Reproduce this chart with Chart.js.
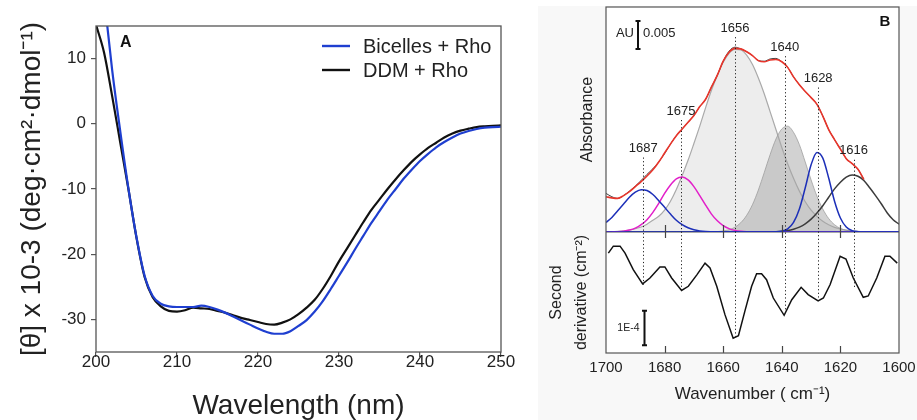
<!DOCTYPE html>
<html>
<head>
<meta charset="utf-8">
<script src="https://cdn.jsdelivr.net/npm/chart.js@4.4.1/dist/chart.umd.min.js"></script>
<style>
  html, body { margin: 0; padding: 0; background: #fff; }
  #wrap { position: relative; width: 917px; height: 420px; overflow: hidden; }
  #panelB { position: absolute; left: 538px; top: 6px; width: 379px; height: 414px; background: #f8f8f8; }
  canvas { position: absolute; top: 0; }
  #cdChart { left: 0; }
  #ftirChart { left: 538px; }
</style>
</head>
<body>
<div id="wrap">
  <div id="panelB"></div>
  <canvas id="cdChart" width="538" height="420"></canvas>
  <canvas id="ftirChart" width="379" height="420"></canvas>
</div>
<script>
Chart.defaults.font.family = '"Liberation Sans", Arial, Helvetica, sans-serif';
Chart.defaults.color = "#222";

// Panel A - CD spectra
const cdWavelength = [200, 201, 202, 203, 204, 205, 206, 207, 208, 209, 210, 211, 212, 213, 214, 215, 216, 217, 218, 219, 220,
  221, 222, 223, 224, 225, 226, 227, 228, 229, 230, 231, 232, 233, 234, 235, 236, 237, 238, 239, 240,
  241, 242, 243, 244, 245, 246, 247, 248, 249, 250];
const cdBicelles = [30, 19.5, 8.2, -1.2, -9.9, -17.4, -23.3, -26.4, -27.6, -28.0, -28.1, -28.1, -28.1, -27.9, -28.1, -28.5, -29.0, -29.6, -30.2, -30.8, -31.4,
  -31.9, -32.2, -32.2, -31.8, -31.0, -30.1, -28.8, -27.2, -25.3, -23.3, -21.3, -19.2, -17.2, -15.2, -13.4, -11.6, -10.0, -8.4, -7.0, -5.7,
  -4.6, -3.6, -2.8, -2.1, -1.5, -1.1, -0.8, -0.6, -0.5, -0.45];
const cdDDM = [15.2, 10.9, 4.2, -2.9, -10.0, -17.5, -23.5, -26.6, -28.0, -28.7, -28.8, -28.6, -28.2, -28.3, -28.4, -28.7, -29.0, -29.4, -29.8, -30.1, -30.4,
  -30.7, -30.8, -30.5, -30.0, -29.2, -28.2, -27.0, -25.3, -23.3, -21.1, -19.1, -17.1, -15.1, -13.2, -11.6, -10.0, -8.5, -7.1, -5.8, -4.7,
  -3.7, -2.9, -2.1, -1.5, -1.05, -0.75, -0.5, -0.38, -0.3, -0.25];
const cdYTicks = [-30, -20, -10, 0, 10];

// Panel B - FTIR amide I band (absorbance in 1e-3 AU)
const ftirWavenumber = [1700, 1698, 1696, 1694, 1692, 1690, 1688, 1686, 1684, 1682, 1680, 1678, 1676, 1674, 1672, 1670, 1668,
  1666, 1664, 1662, 1660, 1658, 1656, 1654, 1652, 1650, 1648, 1646, 1644, 1642, 1640, 1638, 1636, 1634,
  1632, 1630, 1628, 1626, 1624, 1622, 1620, 1618, 1616, 1614, 1612, 1610, 1608, 1606, 1604, 1602, 1600];
const ftirFit = [6.3, 6.1, 6.0, 6.5, 7.2, 8.1, 9.0, 10.0, 11.1, 12.5, 14.1, 15.7, 17.2, 18.4, 19.6, 20.8, 22.4,
  23.7, 25.9, 28.0, 30.5, 32.1, 32.8, 32.7, 32.2, 31.5, 30.6, 30.4, 30.7, 30.8, 30.4, 29.4, 27.7, 26.3,
  25.1, 24.0, 22.8, 20.7, 18.3, 16.5, 14.8, 13.1, 12.2, 11.2, 9.4, null, null, null, null, null, null];
const ftirRaw = [6.9, 6.3, 6.0, 6.5, 7.3, 8.2, 9.2, 10.3, 11.3, 12.5, 14.0, 15.7, 17.2, 18.4, 19.6, 20.8, 22.4,
  23.7, 25.9, 28.0, 30.5, 32.3, 33.0, 32.7, 32.2, 31.5, 30.6, 30.5, 30.9, 31.0, 30.4, 29.4, 27.7, 26.3,
  25.1, 24.0, 22.8, 20.7, 18.3, 16.5, 14.8, 13.1, 12.2, 11.2, 9.4, null, null, null, null, null, null];
const band1687 = [1.7, 2.6, 3.8, 5.0, 6.2, 7.1, 7.55, 7.4, 6.7, 5.6, 4.4, 3.2, 2.1, 1.3, 0.75, 0.4, 0.2,
  0.08, 0.03, 0, 0, 0, 0, 0, 0, 0, 0, 0, 0, 0, 0, 0, 0, 0,
  0, 0, 0, 0, 0, 0, 0, 0, 0, 0, 0, 0, 0, 0, 0, 0, 0];
const band1675 = [0, 0.02, 0.06, 0.15, 0.34, 0.68, 1.3, 2.2, 3.5, 5.1, 6.9, 8.4, 9.5, 9.8, 9.3, 8.1, 6.5,
  4.8, 3.2, 2.0, 1.15, 0.6, 0.29, 0.13, 0.05, 0.02, 0, 0, 0, 0, 0, 0, 0, 0,
  0, 0, 0, 0, 0, 0, 0, 0, 0, 0, 0, 0, 0, 0, 0, 0, 0];
const band1656 = [0.04, 0.07, 0.13, 0.22, 0.36, 0.58, 0.9, 1.4, 2.1, 2.8, 3.9, 5.5, 7.6, 10.1, 12.8, 15.8, 18.9,
  22.2, 25.3, 28.0, 30.3, 31.9, 32.6, 32.5, 31.6, 29.9, 27.5, 24.7, 21.5, 18.3, 15.1, 12.2, 9.6, 7.3,
  5.4, 3.9, 2.8, 1.9, 1.3, 0.83, 0.53, 0.33, 0.2, 0.12, 0.07, 0.04, 0.02, 0.01, 0, 0, 0];
const band1640 = [0, 0, 0, 0, 0, 0, 0, 0, 0, 0, 0, 0, 0, 0, 0, 0, 0,
  0, 0.03, 0.07, 0.18, 0.41, 0.85, 1.66, 2.97, 4.9, 7.5, 10.6, 13.8, 16.6, 18.4, 18.9, 17.8, 15.6,
  12.5, 9.3, 6.4, 4.1, 2.4, 1.3, 0.64, 0.3, 0.12, 0.05, 0.02, 0, 0, 0, 0, 0, 0];
const band1628 = [0, 0, 0, 0, 0, 0, 0, 0, 0, 0, 0, 0, 0, 0, 0, 0, 0,
  0, 0, 0, 0, 0, 0, 0, 0, 0, 0, 0, 0.01, 0.03, 0.14, 0.54, 1.7, 4.1,
  7.9, 12.0, 14.2, 13.2, 9.65, 5.5, 2.5, 0.88, 0.24, 0.05, 0.01, 0, 0, 0, 0, 0, 0];
const band1616 = [0, 0, 0, 0, 0, 0, 0, 0, 0, 0, 0, 0, 0, 0, 0, 0, 0,
  0, 0, 0, 0, 0, 0, 0, 0, 0, 0, 0.01, 0.03, 0.06, 0.13, 0.26, 0.5, 0.88,
  1.46, 2.3, 3.4, 4.7, 6.2, 7.7, 8.9, 9.8, 10.2, 9.95, 9.2, 7.9, 6.5, 5.0, 3.4, 2.2, 1.4];

// second derivative (units of 1e-5 cm^-2)
const derivWavenumber = [1699.2, 1697.5, 1695.2, 1693.5, 1690.7, 1687.5, 1685.0, 1681.6, 1679.9, 1677.6, 1674.2,
  1671.9, 1669.0, 1666.2, 1664.5, 1662.2, 1659.4, 1656.6, 1654.8, 1652.6, 1650.3, 1648.6, 1646.9, 1645.2,
  1642.9, 1639.2, 1636.6, 1633.4, 1631.0, 1627.6, 1625.8, 1623.5, 1620.1, 1618.1, 1615.6, 1612.2, 1610.5,
  1607.6, 1604.8, 1603.1, 1600.6];
const derivValue = [3.9, 5.9, 5.9, 3.9, -0.9, -5.0, -3.3, -0.1, -0.1, -3.3, -6.9,
  -5.7, -2.4, 1.0, -0.4, -5.7, -13.9, -20.7, -20.0, -12.9, -5.7, -2.1, -2.1, -3.8,
  -9.1, -14.1, -9.6, -6.0, -8.1, -9.9, -9.1, -5.2, 3.0, 2.2, -3.3, -8.9, -8.5,
  -3.3, 3.0, 3.0, 1.0];

// assigned peaks: label, line position, top of the marker (absorbance), bottom (derivative)
const peakLabels = ["1687", "1675", "1656", "1640", "1628", "1616"];
const peakPositions = [1687.3, 1674.4, 1656.0, 1639.0, 1627.6, 1615.5];
const peakTopAbs = [13.3, 20.0, 34.8, 31.4, 25.8, 12.9];
const peakBottomDeriv = [-5.8, -6.8, -20.3, -12.6, -9.1, -6.2];

const toPoints = (xs, ys) => xs.map((x, i) => ({ x: x, y: ys[i] }));

// frame, legend and panel letter for A
const cdDecor = {
  id: "cdDecor",
  afterDraw(chart) {
    const { ctx, chartArea: a } = chart;
    ctx.save();
    ctx.strokeStyle = "#555";
    ctx.lineWidth = 1.3;
    ctx.strokeRect(a.left, a.top, a.right - a.left, a.bottom - a.top);

    ctx.fillStyle = "#111";
    ctx.font = 'bold 16px "Liberation Sans", Arial, sans-serif';
    ctx.textBaseline = "middle";
    ctx.textAlign = "left";
    ctx.fillText("A", a.left + 24, a.top + 17);

    ctx.font = '20px "Liberation Sans", Arial, sans-serif';
    chart.data.datasets.forEach((ds, i) => {
      const y = a.top + 20 + i * 24;
      ctx.strokeStyle = ds.borderColor;
      ctx.lineWidth = 2.4;
      ctx.beginPath();
      ctx.moveTo(a.right - 179, y);
      ctx.lineTo(a.right - 151, y);
      ctx.stroke();
      ctx.fillStyle = "#222";
      ctx.fillText(ds.label, a.right - 138, y + 1);
    });
    ctx.restore();
  }
};

new Chart(document.getElementById("cdChart"), {
  type: "line",
  data: {
    datasets: [
      {
        label: "Bicelles + Rho",
        data: toPoints(cdWavelength, cdBicelles),
        borderColor: "#1f3fd0",
        borderWidth: 2.2,
      },
      {
        label: "DDM + Rho",
        data: toPoints(cdWavelength, cdDDM),
        borderColor: "#111111",
        borderWidth: 2.2,
      },
    ],
  },
  options: {
    responsive: false,
    animation: false,
    devicePixelRatio: 1,
    layout: { padding: { top: 26, right: 37, left: 0, bottom: 0 } },
    elements: { point: { radius: 0 }, line: { cubicInterpolationMode: "monotone" } },
    plugins: { legend: { display: false }, tooltip: { enabled: false } },
    scales: {
      x: {
        type: "linear",
        min: 200,
        max: 250,
        ticks: { stepSize: 10, font: { size: 17 }, padding: -5, color: "#222" },
        grid: { display: true, drawOnChartArea: false, drawTicks: true, tickLength: 5, color: "#555", lineWidth: 1.2 },
        border: { display: false },
        title: { display: true, text: "Wavelength (nm)", font: { size: 28, lineHeight: 1 }, padding: 0, color: "#222" },
        afterFit: (s) => { s.height = 68; },
      },
      y: {
        type: "linear",
        min: -35,
        max: 15,
        afterBuildTicks: (s) => { s.ticks = cdYTicks.map((v) => ({ value: v })); },
        ticks: { font: { size: 17 }, padding: 5, color: "#222" },
        grid: { display: true, drawOnChartArea: false, drawTicks: true, tickLength: 5, color: "#555", lineWidth: 1.2 },
        border: { display: false },
        title: {
          display: true,
          text: "[θ] x 10-3 (deg·cm²·dmol⁻¹)",
          font: { size: 28, lineHeight: 1.2 },
          padding: { top: 15, bottom: 0 },
          color: "#222",
        },
        afterFit: (s) => { s.width = 96; },
      },
    },
  },
  plugins: [cdDecor],
});

// white plot area, divider, ticks, peak markers and scale bars for B
const ftirDecor = {
  id: "ftirDecor",
  beforeDraw(chart) {
    const { ctx, chartArea: a } = chart;
    ctx.save();
    ctx.fillStyle = "#ffffff";
    ctx.fillRect(a.left, a.top, a.right - a.left, a.bottom - a.top);
    ctx.restore();
  },
  beforeDatasetsDraw(chart) {
    const { ctx, chartArea: a, scales } = chart;
    const yDiv = scales.yA.getPixelForValue(0);
    ctx.save();
    ctx.strokeStyle = "#555";
    ctx.lineWidth = 1.2;
    ctx.beginPath();
    ctx.moveTo(a.left, yDiv);
    ctx.lineTo(a.right, yDiv);
    ctx.stroke();
    ctx.restore();
  },
  afterDatasetsDraw(chart) {
    const { ctx, chartArea: a, scales } = chart;
    const x = scales.x, yA = scales.yA, yD = scales.yD;
    const yDiv = yA.getPixelForValue(0);
    ctx.save();

    // peak markers
    ctx.strokeStyle = "#222";
    ctx.lineWidth = 1;
    ctx.setLineDash([1.2, 2.4]);
    peakPositions.forEach((p, i) => {
      const px = Math.round(x.getPixelForValue(p)) + 0.5;
      ctx.beginPath();
      ctx.moveTo(px, yA.getPixelForValue(peakTopAbs[i]));
      ctx.lineTo(px, yD.getPixelForValue(peakBottomDeriv[i]));
      ctx.stroke();
    });
    ctx.setLineDash([]);
    ctx.fillStyle = "#222";
    ctx.font = '13px "Liberation Sans", Arial, sans-serif';
    ctx.textAlign = "center";
    ctx.textBaseline = "middle";
    peakPositions.forEach((p, i) => {
      ctx.fillText(peakLabels[i], x.getPixelForValue(p), yA.getPixelForValue(peakTopAbs[i]) - 9);
    });

    // ticks on the divider and the bottom edge
    ctx.strokeStyle = "#444";
    ctx.lineWidth = 1.2;
    x.ticks.forEach((t) => {
      if (t.value <= x.min || t.value >= x.max) return;
      const px = Math.round(x.getPixelForValue(t.value)) + 0.5;
      ctx.beginPath();
      ctx.moveTo(px, yDiv - 7);
      ctx.lineTo(px, yDiv + 6);
      ctx.moveTo(px, a.bottom);
      ctx.lineTo(px, a.bottom - 7);
      ctx.stroke();
    });

    // scale bars
    ctx.strokeStyle = "#111";
    ctx.lineWidth = 2;
    const drawBar = (bx, yTop, yBot) => {
      ctx.beginPath();
      ctx.moveTo(bx, yTop);
      ctx.lineTo(bx, yBot);
      ctx.moveTo(bx - 2.5, yTop);
      ctx.lineTo(bx + 2.5, yTop);
      ctx.moveTo(bx - 2.5, yBot);
      ctx.lineTo(bx + 2.5, yBot);
      ctx.stroke();
    };
    const auLen = yA.getPixelForValue(0) - yA.getPixelForValue(5);
    const auX = a.left + 32, auTop = a.top + 14;
    drawBar(auX, auTop, auTop + auLen);
    ctx.font = '13px "Liberation Sans", Arial, sans-serif';
    ctx.textAlign = "right";
    ctx.fillText("AU", auX - 4, auTop + auLen / 2 - 2);
    ctx.textAlign = "left";
    ctx.fillText("0.005", auX + 5, auTop + auLen / 2 - 2);

    const dLen = yD.getPixelForValue(0) - yD.getPixelForValue(10);
    const dX = a.left + 38.5, dBot = a.bottom - 7.7;
    drawBar(dX, dBot - dLen, dBot);
    ctx.font = '10.5px "Liberation Sans", Arial, sans-serif';
    ctx.textAlign = "right";
    ctx.fillText("1E-4", dX - 5, dBot - dLen / 2);

    // panel letter and frame
    ctx.font = 'bold 15px "Liberation Sans", Arial, sans-serif';
    ctx.textAlign = "center";
    ctx.fillStyle = "#111";
    ctx.fillText("B", a.right - 14, a.top + 15);
    ctx.strokeStyle = "#555";
    ctx.lineWidth = 1.2;
    ctx.strokeRect(a.left, a.top, a.right - a.left, a.bottom - a.top);
    ctx.restore();
  },
};

const bandLine = (label, values, color, order) => ({
  label: label,
  data: toPoints(ftirWavenumber, values),
  yAxisID: "yA",
  borderColor: color,
  borderWidth: 1.5,
  fill: false,
  cubicInterpolationMode: "monotone",
  order: order,
});

new Chart(document.getElementById("ftirChart"), {
  type: "line",
  data: {
    datasets: [
      { ...bandLine("Fit", ftirFit, "#e8352b", 0), borderWidth: 1.6 },
      { ...bandLine("Spectrum", ftirRaw, "#444444", 1), borderWidth: 1 },
      bandLine("1687", band1687, "#1c2fb8", 2),
      bandLine("1628", band1628, "#1c2fb8", 3),
      bandLine("1675", band1675, "#e21fc9", 4),
      bandLine("1616", band1616, "#3b3b3b", 5),
      { ...bandLine("1640", band1640, "rgba(150,150,150,0.7)", 6), borderWidth: 1, fill: "origin", backgroundColor: "rgba(165,165,165,0.5)" },
      { ...bandLine("1656", band1656, "#a9a9a9", 7), borderWidth: 1.2, fill: "origin", backgroundColor: "rgba(215,215,215,0.45)" },
      {
        label: "Second derivative",
        data: toPoints(derivWavenumber, derivValue),
        yAxisID: "yD",
        borderColor: "#111111",
        borderWidth: 1.5,
        tension: 0,
        order: 8,
      },
    ],
  },
  options: {
    responsive: false,
    animation: false,
    devicePixelRatio: 1,
    layout: { padding: { top: 7, right: 18, left: 0, bottom: 0 } },
    elements: { point: { radius: 0 } },
    plugins: { legend: { display: false }, tooltip: { enabled: false } },
    scales: {
      x: {
        type: "linear",
        reverse: true,
        min: 1600,
        max: 1700,
        ticks: { stepSize: 20, font: { size: 15 }, padding: 5.5, color: "#222", callback: (v) => String(v) },
        grid: { display: false, drawTicks: false },
        border: { display: false },
        title: { display: true, text: "Wavenumber ( cm⁻¹)", font: { size: 17, lineHeight: 1.2 }, padding: { top: 0, bottom: 15.8 }, color: "#222" },
        afterFit: (s) => { s.height = 67; s.paddingLeft = 0; s.paddingRight = 0; },
      },
      yD: {
        type: "linear",
        position: "left",
        stack: "ftir",
        stackWeight: 121,
        min: -25,
        max: 10,
        ticks: { display: false },
        grid: { display: false, drawTicks: false },
        border: { display: false },
        title: { display: true, text: ["Second", "derivative (cm⁻²)"], font: { size: 16, lineHeight: 1.55 }, padding: { top: 6.6, bottom: 0 }, color: "#222" },
        afterFit: (s) => { s.width = 68; },
      },
      yA: {
        type: "linear",
        position: "left",
        stack: "ftir",
        stackWeight: 225,
        min: 0,
        max: 40.18,
        ticks: { display: false },
        grid: { display: false, drawTicks: false },
        border: { display: false },
        title: { display: true, text: "Absorbance", font: { size: 16, lineHeight: 1.2 }, padding: { top: 40.4, bottom: 0 }, color: "#222" },
        afterFit: (s) => { s.width = 68; },
      },
    },
  },
  plugins: [ftirDecor],
});
</script>
</body>
</html>
